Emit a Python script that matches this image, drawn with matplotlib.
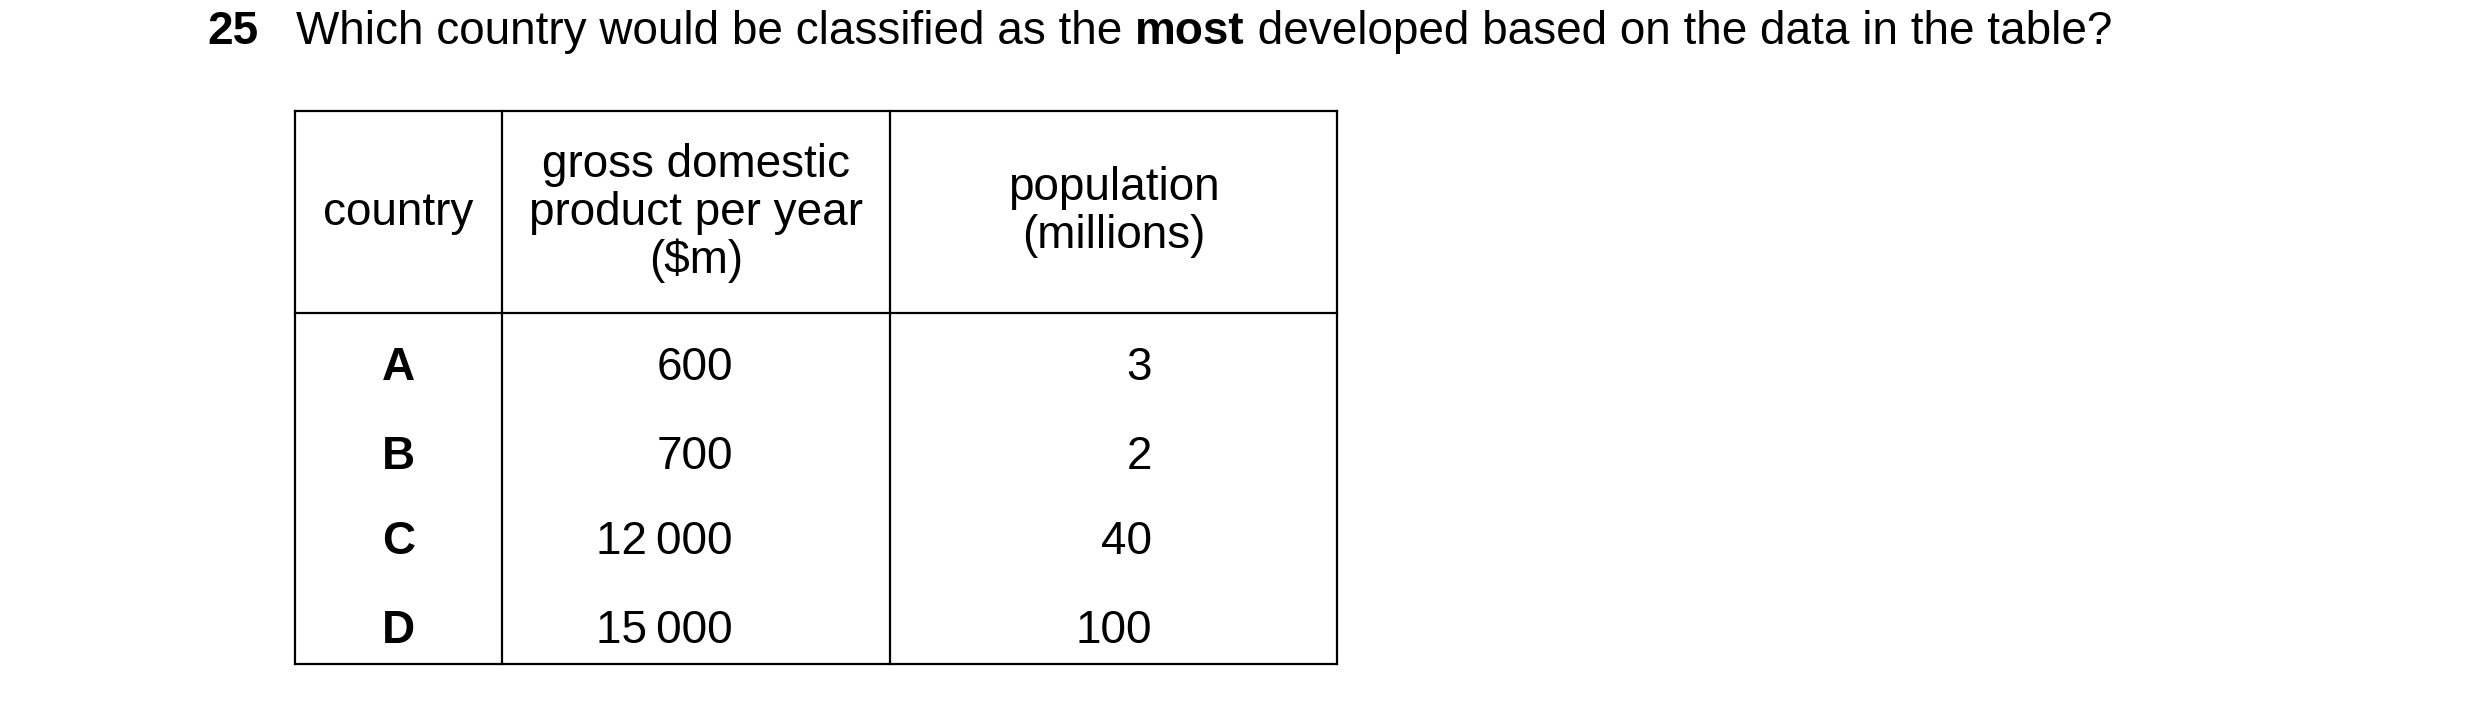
import matplotlib
matplotlib.use("Agg")
import matplotlib.pyplot as plt

question_num = "25"
question_pre = "Which country would be classified as the "
question_bold = "most"
question_post = " developed based on the data in the table?"
headers = ["country", "gross domestic\nproduct per year\n($m)", "population\n(millions)"]
countries = ["A", "B", "C", "D"]
gdp = ["600", "700", "12\u2009000", "15\u2009000"]
population = ["3", "2", "40", "100"]

W, H = 2480, 706
fig = plt.figure(figsize=(W/100, H/100), dpi=100)
ax = fig.add_axes([0, 0, 1, 1])
ax.set_xlim(0, W); ax.set_ylim(H, 0); ax.axis("off")
plt.rcParams['font.family'] = ['Liberation Sans', 'DejaVu Sans']
fs = 33

# question
ax.text(207, 32, question_num, fontsize=fs, fontweight="bold", va="center")
t = ax.text(296, 32, question_pre, fontsize=fs, va="center")
fig.canvas.draw()
r = fig.canvas.get_renderer()
bb = t.get_window_extent(r)
x = 296 + bb.width
t2 = ax.text(x, 32, question_bold, fontsize=fs, fontweight="bold", va="center")
bb2 = t2.get_window_extent(r)
ax.text(x + bb2.width, 32, question_post, fontsize=fs, va="center")

# table grid
L, C1, C2, R = 295, 502, 890, 1337
T, HB, B = 111, 313, 664
lw = 1.6
for xx in (L, C1, C2, R):
    ax.plot([xx, xx], [T, B], color="black", lw=lw)
for yy in (T, HB, B):
    ax.plot([L, R], [yy, yy], color="black", lw=lw)

ax.text((L+C1)/2, 213, headers[0], fontsize=fs, ha="center", va="center")
ax.text((C1+C2)/2, 213, headers[1], fontsize=fs, ha="center", va="center", linespacing=1.1)
ax.text((C2+R)/2, 212, headers[2], fontsize=fs, ha="center", va="center", linespacing=1.1)

rows_y = [368, 457, 542, 631]
for i, y in enumerate(rows_y):
    ax.text((L+C1)/2, y, countries[i], fontsize=fs, fontweight="bold", ha="center", va="center")
    ax.text(733, y, gdp[i], fontsize=fs, ha="right", va="center")
    ax.text(1152, y, population[i], fontsize=fs, ha="right", va="center")

fig.savefig("out.png", dpi=100, facecolor="white")
